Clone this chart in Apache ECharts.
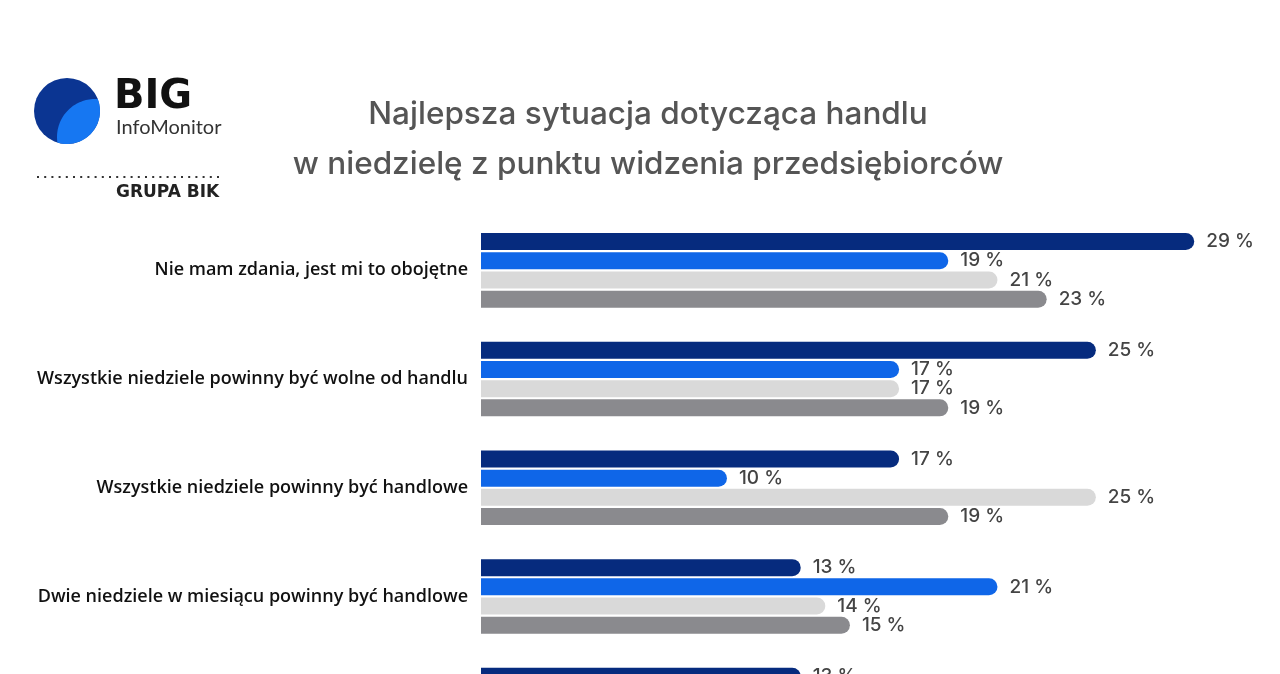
<!DOCTYPE html>
<html>
<head>
<meta charset="utf-8">
<script src="https://cdn.jsdelivr.net/npm/echarts@6/dist/echarts.min.js"></script>
<style>
html,body{margin:0;padding:0;background:#fff;}
#main{width:1280px;height:674px;}
</style>
</head>
<body>
<div id="main"></div>
<script>
const categories = [
  'Nie mam zdania, jest mi to obojętne',
  'Wszystkie niedziele powinny być wolne od handlu',
  'Wszystkie niedziele powinny być handlowe',
  'Dwie niedziele w miesiącu powinny być handlowe',
  'Jedna niedziela w miesiącu powinna być handlowa'
];
const seriesA = [29, 25, 17, 13, 13];
const seriesB = [19, 17, 10, 21, null];
const seriesC = [21, 17, 25, 14, null];
const seriesD = [23, 19, 19, 15, null];
const titleLines = ['Najlepsza sytuacja dotycząca handlu', 'w niedzielę z punktu widzenia przedsiębiorców'];

const colors = ['#062b7e', '#0f66e8', '#d9d9d9', '#8a8a8e'];
const allSeries = [seriesA, seriesB, seriesC, seriesD];

// logo lens shape (intersection of two circles) as polygon points
function arcPts(cx, cy, r, a0, a1, n) {
  const pts = [];
  for (let i = 0; i <= n; i++) {
    const a = a0 + (a1 - a0) * i / n;
    pts.push([cx + r * Math.cos(a), cy + r * Math.sin(a)]);
  }
  return pts;
}
function lens() {
  const A = [67, 111], rA = 33, B = [95, 137], rB = 38;
  const p1 = [57.4, 142.6], p2 = [97.8, 99.1];
  const angB1 = Math.atan2(p1[1] - B[1], p1[0] - B[0]);
  let angB2 = Math.atan2(p2[1] - B[1], p2[0] - B[0]);
  if (angB2 < angB1) angB2 += Math.PI * 2;
  const angA2 = Math.atan2(p2[1] - A[1], p2[0] - A[0]);
  let angA1 = Math.atan2(p1[1] - A[1], p1[0] - A[0]);
  if (angA1 < angA2) angA1 += Math.PI * 2;
  return arcPts(B[0], B[1], rB, angB1, angB2, 40).concat(arcPts(A[0], A[1], rA, angA2, angA1, 40));
}

const chart = echarts.init(document.getElementById('main'), null, {renderer: 'canvas'});
chart.setOption({
  backgroundColor: '#ffffff',
  animation: false,
  title: {
    text: titleLines.join('\n'),
    left: 643,
    textAlign: 'center',
    top: 85,
    textStyle: {
      fontFamily: 'Inter',
      fontSize: 31.5,
      fontWeight: 500,
      color: '#555555',
      lineHeight: 50
    }
  },
  grid: {left: 481, top: 216, width: 787, height: 543.5, containLabel: false, outerBoundsMode: 'none'},
  xAxis: {
    type: 'value', min: 0, max: 32,
    show: false
  },
  yAxis: {
    type: 'category', data: categories, inverse: true,
    axisLine: {show: false}, axisTick: {show: false},
    axisLabel: {
      margin: 13,
      fontFamily: 'Open Sans',
      fontSize: 18,
      fontWeight: 600,
      color: '#111111'
    }
  },
  series: allSeries.map((d, i) => ({
    type: 'bar',
    data: d,
    barWidth: 17,
    barGap: '13%',
    itemStyle: {color: colors[i], borderRadius: [0, 9, 9, 0]},
    label: {
      show: true, position: 'right', distance: 12,
      formatter: '{c} %',
      fontFamily: 'Inter', fontSize: 19, fontWeight: 500,
      color: '#444444'
    }
  })),
  graphic: [
    {type: 'circle', shape: {cx: 67, cy: 111, r: 33}, style: {fill: '#0b3592'}},
    {type: 'polygon', shape: {points: lens()}, style: {fill: '#1677f2'}},
    {type: 'text', left: 114, top: 78, style: {text: 'BIG', fontFamily: 'DejaVu Sans', fontSize: 40, fontWeight: 'bold', fill: '#111111'}},
    {type: 'text', left: 116, top: 118, style: {text: 'InfoMonitor', fontFamily: 'Lato', fontSize: 20, fontWeight: 400, fill: '#333333'}},
    {type: 'line', shape: {x1: 37, y1: 177, x2: 222, y2: 177}, style: {stroke: '#333333', lineWidth: 2, lineDash: [2, 5.2]}},
    {type: 'text', left: 116, top: 184, style: {text: 'GRUPA BIK', fontFamily: 'DejaVu Sans', fontSize: 17, fontWeight: 'bold', fill: '#222222'}}
  ]
});
</script>
</body>
</html>
